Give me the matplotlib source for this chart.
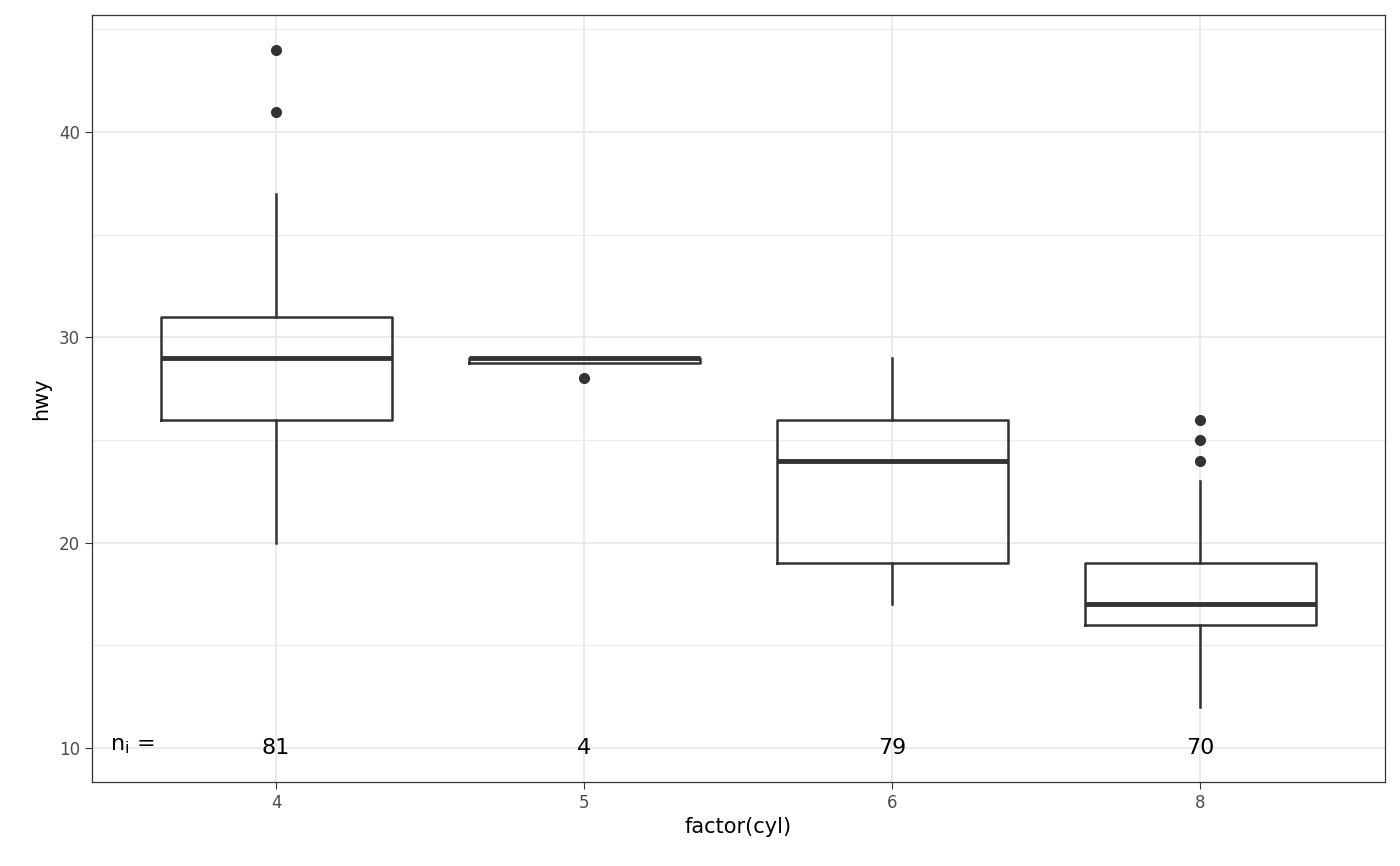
import matplotlib
matplotlib.use("Agg")
import matplotlib.pyplot as plt

categories = ["4", "5", "6", "8"]
q1 = [26, 28.75, 19, 16]
med = [29, 29, 24, 17]
q3 = [31, 29, 26, 19]
whislo = [20, 28.75, 17, 12]
whishi = [37, 29, 29, 23]
fliers = [[44, 41], [28], [], [26, 25, 24]]
counts = [81, 4, 79, 70]

fig = plt.figure(figsize=(14, 8.66), dpi=100)
ax = fig.add_axes([92/1400, 1-782/866, (1385-92)/1400, (782-15)/866])

stats = [dict(q1=a, med=m, q3=b, whislo=l, whishi=h, fliers=f, label=c)
         for a, m, b, l, h, f, c in zip(q1, med, q3, whislo, whishi, fliers, categories)]
pos = list(range(1, len(categories)+1))
ax.bxp(stats, positions=pos, widths=0.75, showcaps=False,
       boxprops=dict(color="#333333", linewidth=1.8),
       whiskerprops=dict(color="#333333", linewidth=1.8),
       medianprops=dict(color="#333333", linewidth=3.5),
       flierprops=dict(marker="o", markerfacecolor="#333333", markeredgecolor="#333333", markersize=7))

ax.set_xlim(0.4026, 4.6)
ax.set_ylim(8.35, 45.7)
ax.set_yticks([10, 20, 30, 40])
ax.set_yticks([15, 25, 35, 45], minor=True)
ax.grid(True, which="major", color="#ebebeb", linewidth=1.4)
ax.grid(True, which="minor", axis="y", color="#ebebeb", linewidth=0.8)
ax.set_axisbelow(True)
for s in ax.spines.values():
    s.set_color("#333333"); s.set_linewidth(0.9)
ax.tick_params(axis="both", which="major", labelsize=12, labelcolor="#4d4d4d", color="#333333", length=5)
ax.tick_params(axis="y", which="minor", length=0)
ax.set_xlabel("factor(cyl)", fontsize=15, labelpad=4)
ax.set_ylabel("hwy", fontsize=15, labelpad=6)

for p, n in zip(pos, counts):
    ax.text(p, 10, str(n), ha="center", va="center", fontsize=16)
ax.text(0.46, 10.1, r"$\mathregular{n_i}$ =", ha="left", va="center", fontsize=16)

fig.savefig("out.png", dpi=100)
